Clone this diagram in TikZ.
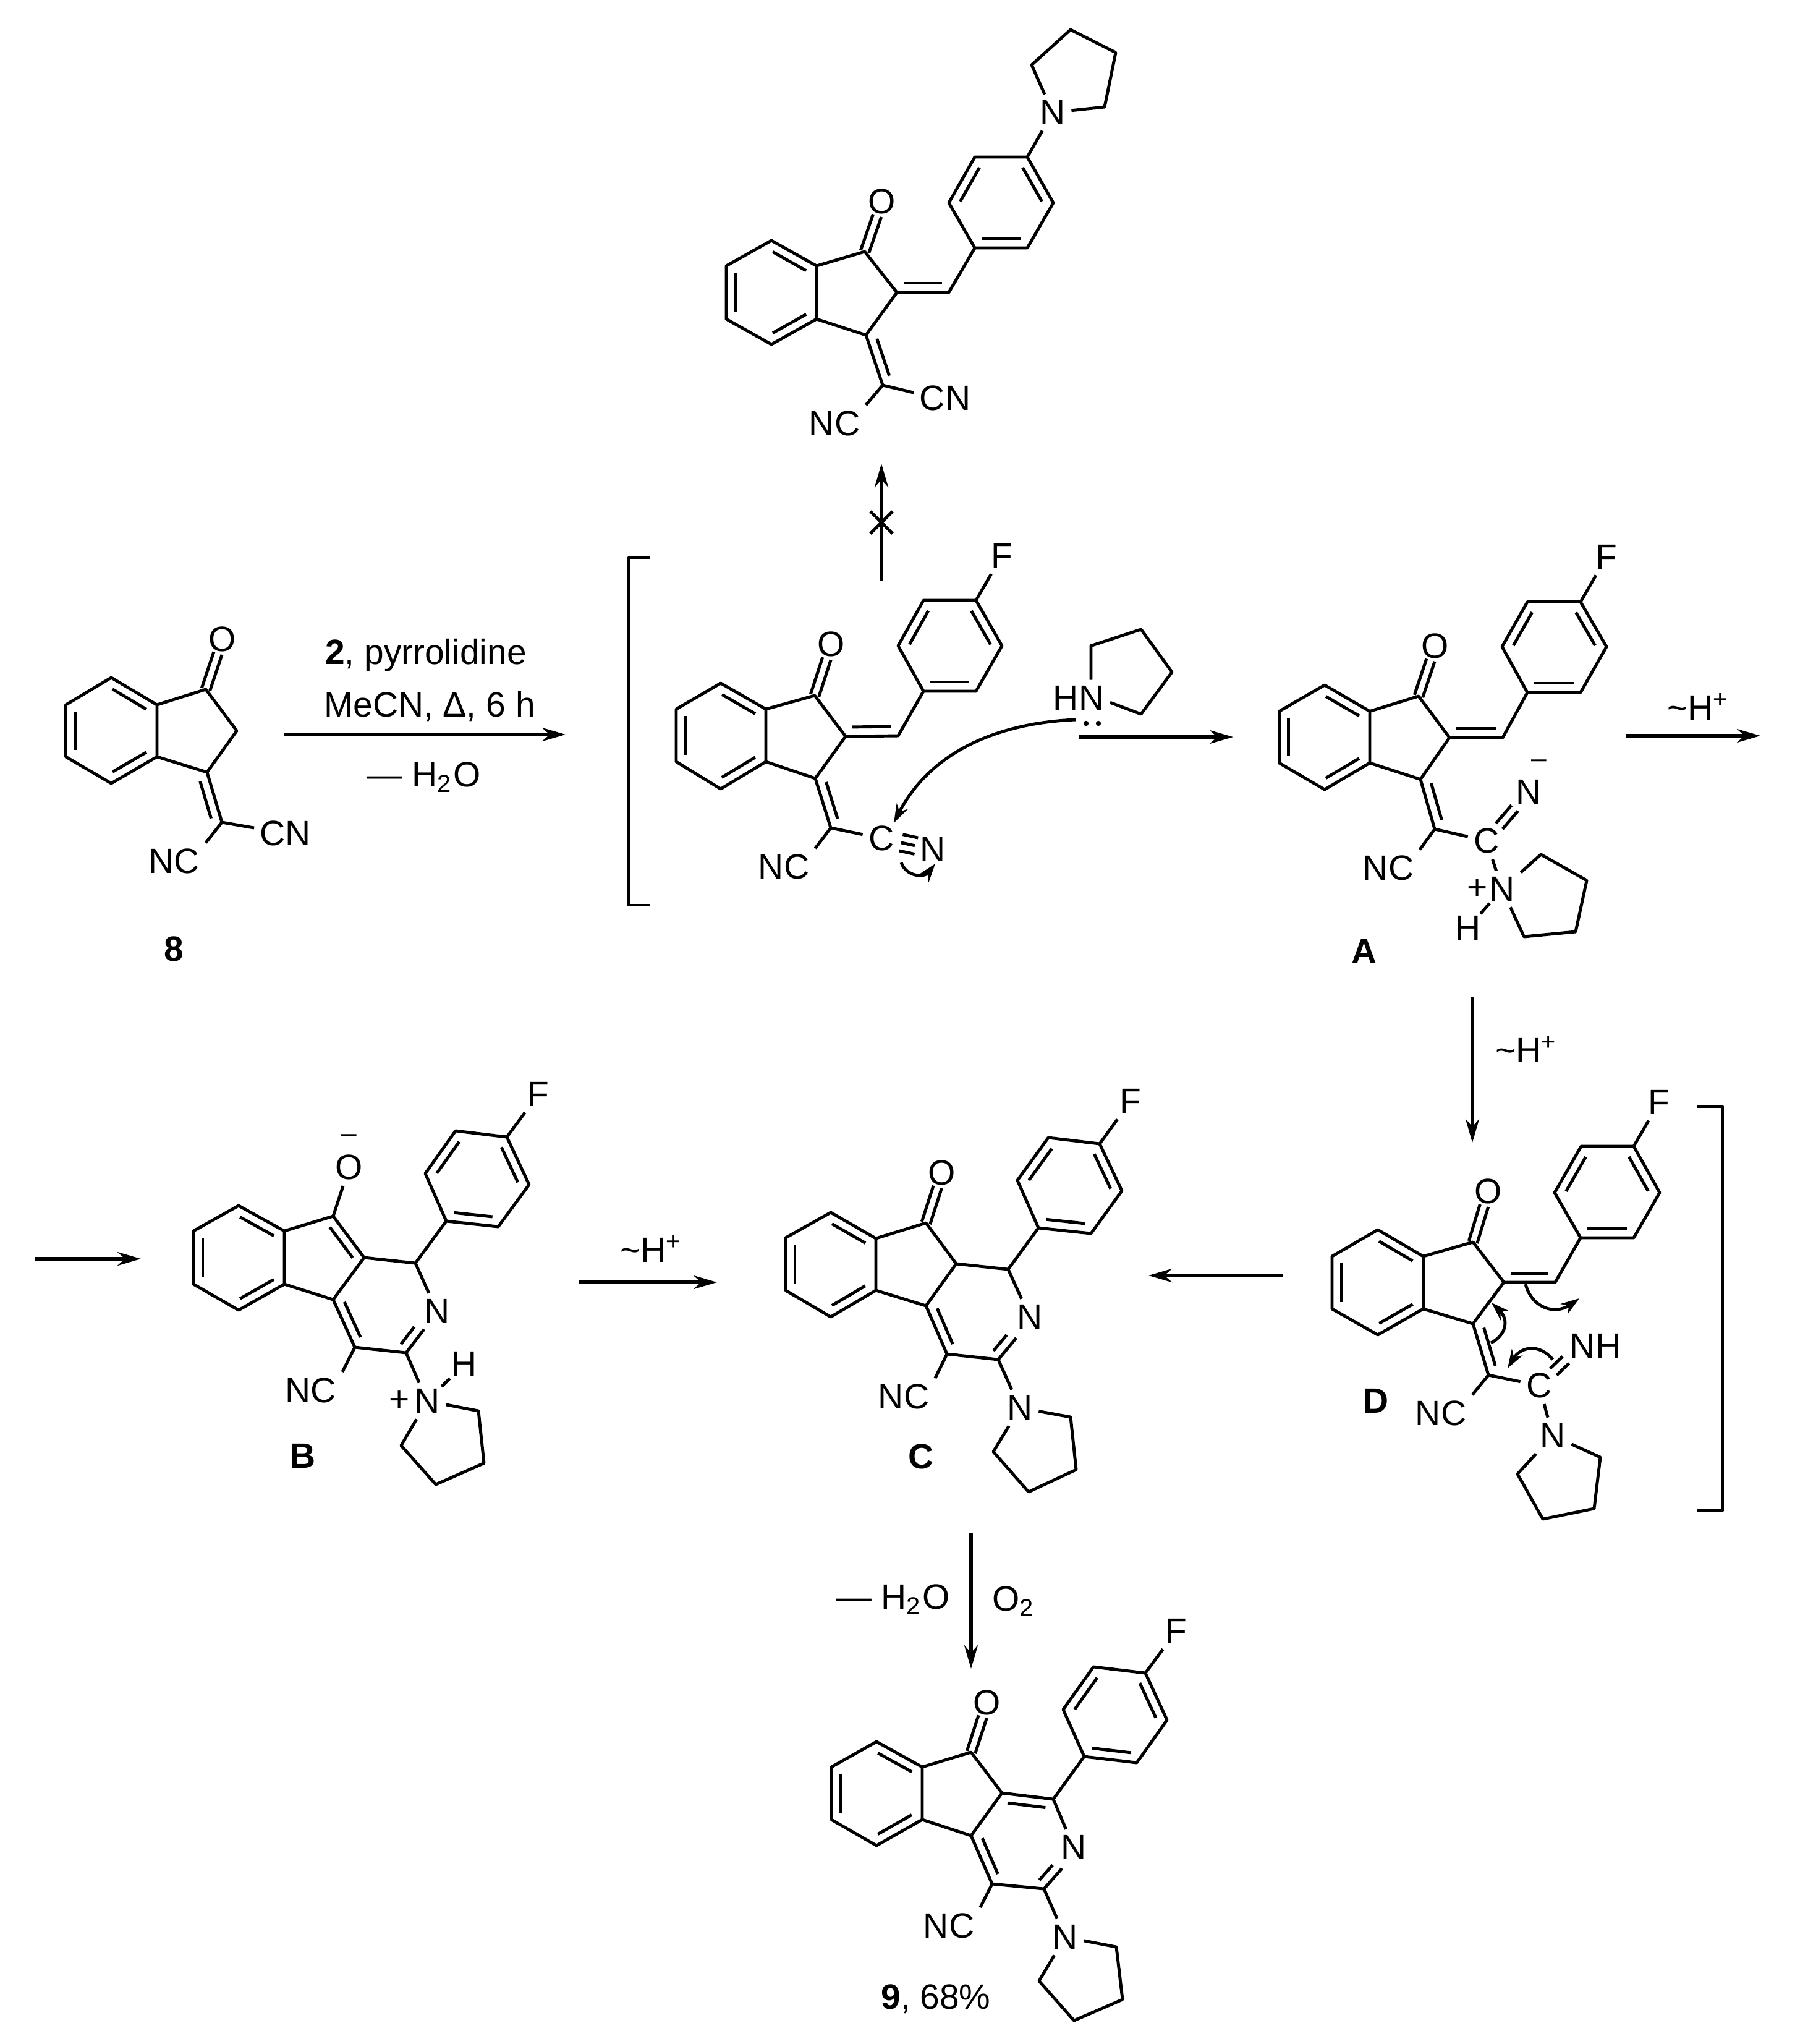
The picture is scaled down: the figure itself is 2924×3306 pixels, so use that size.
\documentclass[tikz,border=0pt]{standalone}
\usepackage{fontspec}
\setmainfont{Liberation Sans}
\usetikzlibrary{arrows.meta, calc}
\tikzset{
    bond/.style={line width=.7pt, line join=round},
    hbond/.style={line width=.7pt, shorten <=-1.2pt, shorten >=-1.2pt},
    rxn/.style={line width=.75pt},
    curly/.style={line width=.7pt, -{Stealth[length=.15cm,width=.1cm]}},
    atom/.style={inner sep=1.2pt, font=\fontsize{8.1}{9.7}\selectfont},
    charge/.style={inner sep=0pt, font=\fontsize{6.3}{7}\selectfont},
    txt/.style={inner sep=0pt, font=\fontsize{8.1}{9.7}\selectfont}
}
\newcommand{\atoms}[2]{\foreach \n/\x/\y in {#2} \coordinate (#1\n) at (\x,\y);}
\newcommand{\dbond}[2]{\draw[bond] ($(#1)!.13!(#2)!.075cm!-90:(#2)$) -- ($(#2)!.13!(#1)!.075cm!90:(#1)$);}
\newcommand{\sdbond}[5][.035cm]{
    \draw[bond] ($(#2)!#4!(#3)!#1!90:(#3)$) -- ($(#2)!#5!(#3)!#1!90:(#3)$);
    \draw[bond] ($(#2)!#4!(#3)!#1!-90:(#3)$) -- ($(#2)!#5!(#3)!#1!-90:(#3)$);
}
\newcommand{\indene}[1]{
    \draw[bond] (#11) -- (#12) -- (#13) -- (#14) -- (#15) -- (#16) -- cycle;
    \draw[bond] (#13) -- (#1o) -- (#1m) -- (#1b) -- (#14);
    \dbond{#12}{#13} \dbond{#14}{#15} \dbond{#16}{#11}
}
\newcommand{\arylring}[1]{
    \draw[bond] (#1r1) -- (#1r2) -- (#1r3) -- (#1r4) -- (#1r5) -- (#1r6) -- cycle;
    \dbond{#1r2}{#1r3} \dbond{#1r4}{#1r5} \dbond{#1r6}{#1r1}
    \draw[bond] (#1r4) -- (#1F);
}
% benzylidene part, shared by the open forms
\newcommand{\enone}[1]{
    \indene{#1} \arylring{#1}
    \draw[bond] (#1m) -- (#1h) -- (#1r1) (#1b) -- (#1c);
    \dbond{#1h}{#1m} \dbond{#1c}{#1b}
    \sdbond{#1o}{#1O}{0}{.72}
}
% fused pyridine part, shared by B, C and 9
\newcommand{\tricycle}[1]{
    \indene{#1} \arylring{#1}
    \draw[bond] (#1m) -- (#1h) -- (#1r1) (#1h) -- (#1N) (#1b) -- (#1cc) -- (#1cn) -- (#1P);
    \draw[bond] (#1cc) -- (#1NC.north east) (#1cn) -- (#1nb);
    \dbond{#1cc}{#1b} \dbond{#1nb}{#1cn}
}

\begin{document}
\begin{tikzpicture}[>={Stealth[length=.19cm,width=.11cm]}, x=.005cm, y=-.005cm]
    \useasboundingbox (0,0) rectangle (2924,3306);

    % top product
    \atoms{t}{1/1175/430, 2/1248/389, 3/1321/430, 4/1321/516, 5/1248/557, 6/1175/516,
        o/1399/407, m/1451/473, b/1401/542, h/1535/473, c/1428/623,
        r1/1577/401, r2/1535/328, r3/1577/254, r4/1662/254, r5/1704/328, r6/1662/401,
        p1/1669/105, p2/1732/48, p3/1805/85, p4/1787/173}
    \node[atom] (tO) at (1427,326) {O};
    \node[atom] (tF) at (1703,182) {N};
    \node[atom] (tCN) at (1529,644) {CN};
    \node[atom] (tNC) at (1350,685) {NC};
    \enone{t}
    \draw[bond] (tc) -- (tCN.170) (tc) -- (tNC.north east);
    \draw[bond] (tF) -- (tp1) -- (tp2) -- (tp3) -- (tp4) -- (tF);

    % 8
    \atoms{s}{1/106.5/1140, 2/180/1096, 3/254/1140, 4/254/1224, 5/180/1267, 6/106.5/1224,
        o/333/1115, m/383/1182, b/335/1249, c/359/1330}
    \node[atom] (sO) at (360,1034) {O};
    \node[atom] (sCN) at (462,1348) {CN};
    \node[atom] (sNC) at (282,1393) {NC};
    \node[txt] (s8) at (281,1535) {\textbf{8}};
    \indene{s}
    \sdbond{so}{sO}{0}{.72}
    \dbond{sb}{sc}
    \draw[bond] (sb) -- (sc) -- (sCN.170) (sc) -- (sNC.north east);

    % first intermediate, in brackets
    \atoms{e}{1/1094/1147, 2/1166/1105, 3/1239/1147, 4/1239/1232, 5/1166/1276, 6/1094/1232,
        o/1318/1125, m/1368/1191, b/1319/1259, h/1453/1190, c/1344/1339,
        r1/1494/1118, r2/1453/1044.5, r3/1494/971, r4/1579/971, r5/1621/1044.5, r6/1579/1118,
        p1/1765/1044.5, p2/1846/1018, p3/1896/1087, p4/1846/1155}
    \node[atom] (eO) at (1345,1042) {O};
    \node[atom] (eF) at (1620.5,899) {F};
    \node[atom] (eC) at (1426,1356) {C};
    \node[atom] (eN) at (1509,1374) {N};
    \node[atom] (eNC) at (1268,1402) {NC};
    \node[atom] (eHN) at (1745,1129) {HN};
    \enone{e}
    \draw[bond] (ec) -- (eC) (ec) -- (eNC.north east);
    \sdbond[.0675cm]{eC}{eN}{.38}{.68}
    \draw[bond] ($(eC)!.38!(eN)$) -- ($(eC)!.65!(eN)$);
    \draw[bond] (eHN.north -| ep1) -- (ep1) -- (ep2) -- (ep3) -- (ep4) -- (eHN.-8);
    \fill (1757,1170) circle[radius=4.2] (1777,1170) circle[radius=4.2];
    \atoms{eb}{1/1052/902, 2/1017/902, 3/1017/1464, 4/1052/1464}
    \draw[bond] (eb1) -- (eb2) -- (eb3) -- (eb4);
    \atoms{ea}{1/1740/1164, 2/1446/1331, 3/1458/1395, 4/1513/1397}
    \draw[curly] (ea1) .. controls (1600,1170) and (1500,1225) .. (ea2);
    \draw[curly] (ea3) .. controls (1466,1418) and (1495,1420) .. (ea4);

    % A
    \atoms{a}{1/2069.5/1150.5, 2/2143/1108, 3/2216/1150.5, 4/2216/1234, 5/2143/1277, 6/2069.5/1234,
        o/2295/1126, m/2345/1193, b/2298/1260.5, h/2431/1193, c/2321/1341,
        r1/2471/1120, r2/2430/1046, r3/2471/973.5, r4/2557/973.5, r5/2599/1046, r6/2557/1120,
        p1/2493/1382, p2/2567/1424, p3/2549/1507, p4/2465.5/1515}
    \node[atom] (aO) at (2322,1045) {O};
    \node[atom] (aF) at (2599,901) {F};
    \node[atom] (aC) at (2405,1360) {C};
    \node[atom] (aN) at (2473,1281) {N};
    \node[atom] (aNC) at (2246,1404) {NC};
    \node[atom] (aNp) at (2430,1438) {N};
    \node[atom] (aH) at (2375,1501) {H};
    \node[charge] (aminus) at (2490,1235) {\textendash};
    \node[atom] (aplus) at (2390,1438) {+};
    \node[txt] (aname) at (2207,1539) {\textbf{A}};
    \enone{a}
    \draw[bond] (ac) -- (aC) (ac) -- (aNC.north east) (aC) -- (aNp);
    \draw[hbond] (aNp) -- (aH);
    \sdbond{aC}{aN}{.3}{.67}
    \draw[bond] (aNp) -- (ap1) -- (ap2) -- (ap3) -- (ap4) -- (aNp);

    % D
    \atoms{d}{1/2155/2032, 2/2229/1989, 3/2302.5/2032, 4/2302.5/2117, 5/2229/2159, 6/2155/2117,
        o/2383/2009, m/2433/2074, b/2383/2141, h/2516/2074, c/2408/2224,
        r1/2557/2002, r2/2515/1929, r3/2558/1854, r4/2643/1854, r5/2685/1929, r6/2643/2002,
        p1/2589/2357, p2/2579/2440, p3/2496/2457, p4/2455/2384, n/2570/2164}
    \node[atom] (dO) at (2408,1927) {O};
    \node[atom] (dF) at (2684,1783) {F};
    \node[atom] (dC) at (2490,2241) {C};
    \node[atom] (dNH) at (2581,2177) {NH};
    \node[atom] (dN) at (2512,2322) {N};
    \node[atom] (dNC) at (2331,2286) {NC};
    \node[txt] (dname) at (2226,2266) {\textbf{D}};
    \enone{d}
    \draw[bond] (dc) -- (dC) (dc) -- (dNC.north east) (dC) -- (dN);
    \sdbond[.038cm]{dC}{dn}{.29}{.54}
    \draw[bond] (dN) -- (dp1) -- (dp2) -- (dp3) -- (dp4) -- (dN);
    \atoms{db}{1/2746/1790, 2/2787/1790, 3/2787/2443, 4/2746/2443}
    \draw[bond] (db1) -- (db2) -- (db3) -- (db4);
    \atoms{da}{1/2468/2077, 2/2555/2100, 3/2412/2172, 4/2413/2107, 5/2512/2199, 6/2439/2213}
    \draw[curly] (da1) .. controls (2478,2115) and (2515,2128) .. (da2);
    \draw[curly] (da3) .. controls (2436,2160) and (2442,2135) .. (da4);
    \draw[curly] (da5) .. controls (2490,2172) and (2460,2178) .. (da6);

    % B
    \atoms{b}{1/313/1991, 2/386/1950, 3/460/1991, 4/460/2077, 5/386/2119, 6/313/2077,
        o/539/1967, m/589/2034, b/539/2102, h/672/2043, cn/657/2188, cc/574/2179,
        r1/722/1975, r2/688/1898, r3/737/1829, r4/820/1839, r5/856/1916, r6/806/1984,
        p1/774/2282, p2/783/2366.5, p3/705/2401, p4/649/2338, nb/686/2150}
    \node[atom] (bO) at (565,1888) {O};
    \node[charge] (bminus) at (565,1841) {\textendash};
    \node[atom] (bF) at (871,1770) {F};
    \node[atom] (bN) at (707,2121) {N};
    \node[atom] (bP) at (691,2266) {N};
    \node[atom] (bplus) at (646,2266) {+};
    \node[atom] (bH) at (751,2206) {H};
    \node[atom] (bNC) at (503,2249) {NC};
    \node[txt] (bname) at (490,2355) {\textbf{B}};
    \tricycle{b}
    \draw[bond] (bo) -- (bO);
    \draw[hbond] (bP) -- (bH);
    \dbond{bo}{bm}
    \draw[bond] (bP) -- (bp1) -- (bp2) -- (bp3) -- (bp4) -- (bP);

    % C
    \atoms{c}{1/1271/2002, 2/1344/1961, 3/1417/2003, 4/1417/2087, 5/1344/2130, 6/1271/2087,
        o/1498/1978, m/1547/2044, b/1498/2112, h/1631/2053, cn/1615/2199, cc/1532/2190,
        r1/1680/1986, r2/1646/1909, r3/1696/1840, r4/1779/1850, r5/1815/1926, r6/1765/1995,
        p1/1732/2292, p2/1741/2377, p3/1664/2413, p4/1607/2348, nb/1644/2164}
    \node[atom] (cO) at (1524,1897) {O};
    \node[atom] (cF) at (1829,1781) {F};
    \node[atom] (cN) at (1666,2130) {N};
    \node[atom] (cP) at (1650,2277) {N};
    \node[atom] (cNC) at (1462,2259) {NC};
    \node[txt] (cname) at (1490,2356) {\textbf{C}};
    \tricycle{c}
    \sdbond{co}{cO}{0}{.72}
    \draw[bond] (cP) -- (cp1) -- (cp2) -- (cp3) -- (cp4) -- (cP);

    % 9
    \atoms{p}{1/1345/2858, 2/1418/2817, 3/1492/2858, 4/1492/2943, 5/1418/2985, 6/1345/2943,
        o/1571/2834, m/1621/2900, b/1571/2969, h/1704/2910, cn/1689/3055, cc/1605/3047,
        r1/1754/2841, r2/1720/2765, r3/1769/2696, r4/1853/2706, r5/1888/2782, r6/1839/2851,
        p1/1806/3149, p2/1816/3234, p3/1737.5/3268, p4/1681/3204, nb/1718/3022}
    \node[atom] (pO) at (1597,2754) {O};
    \node[atom] (pF) at (1903,2638) {F};
    \node[atom] (pN) at (1737,2988) {N};
    \node[atom] (pP) at (1723,3133) {N};
    \node[atom] (pNC) at (1535,3115) {NC};
    \node[txt] (pname) at (1514,3233) {\textbf{9}, 68\%};
    \tricycle{p}
    \sdbond{po}{pO}{0}{.72}
    \dbond{pm}{ph}
    \draw[bond] (pP) -- (pp1) -- (pp2) -- (pp3) -- (pp4) -- (pP);

    % reaction arrows and their texts
    \atoms{ar}{1s/460/1188, 1e/915/1188, 2s/1745/1192, 2e/1995/1192, 3s/2630/1190, 3e/2848/1190,
        4s/2382/1613, 4e/2382/1848, 5s/57/2036, 5e/228/2036, 6s/936/2074, 6e/1160/2074,
        7s/2076/2063, 7e/1858/2063, 8s/1571/2479, 8e/1571/2699, 9s/1426/940, 9e/1426/750,
        xa/1408/827, xb/1444/863, xc/1444/827, xd/1408/863}
    \path[->, rxn]
        (ar1s) edge (ar1e)
        (ar2s) edge (ar2e)
        (ar3s) edge (ar3e)
        (ar4s) edge (ar4e)
        (ar5s) edge (ar5e)
        (ar6s) edge (ar6e)
        (ar7s) edge (ar7e)
        (ar8s) edge (ar8e)
        (ar9s) edge (ar9e)
    ;
    \draw[bond] (arxa) -- (arxb) (arxc) -- (arxd);
    \node[txt] (cond1) at (689,1060) {\textbf{2}, pyrrolidine};
    \node[txt] (cond2) at (695,1143) {MeCN, \symbol{"0394}, 6 h};
    \node[txt] (cond3) at (686,1257) {— H\textsubscript{2}O};
    \node[txt] (shift1) at (2748,1143) {\textasciitilde H\textsuperscript{+}};
    \node[txt] (shift2) at (2470,1697) {\textasciitilde H\textsuperscript{+}};
    \node[txt] (shift3) at (1054,2020) {\textasciitilde H\textsuperscript{+}};
    \node[txt] (cond4) at (1445,2587) {— H\textsubscript{2}O};
    \node[txt] (cond5) at (1640,2590) {O\textsubscript{2}};
\end{tikzpicture}
\end{document}
